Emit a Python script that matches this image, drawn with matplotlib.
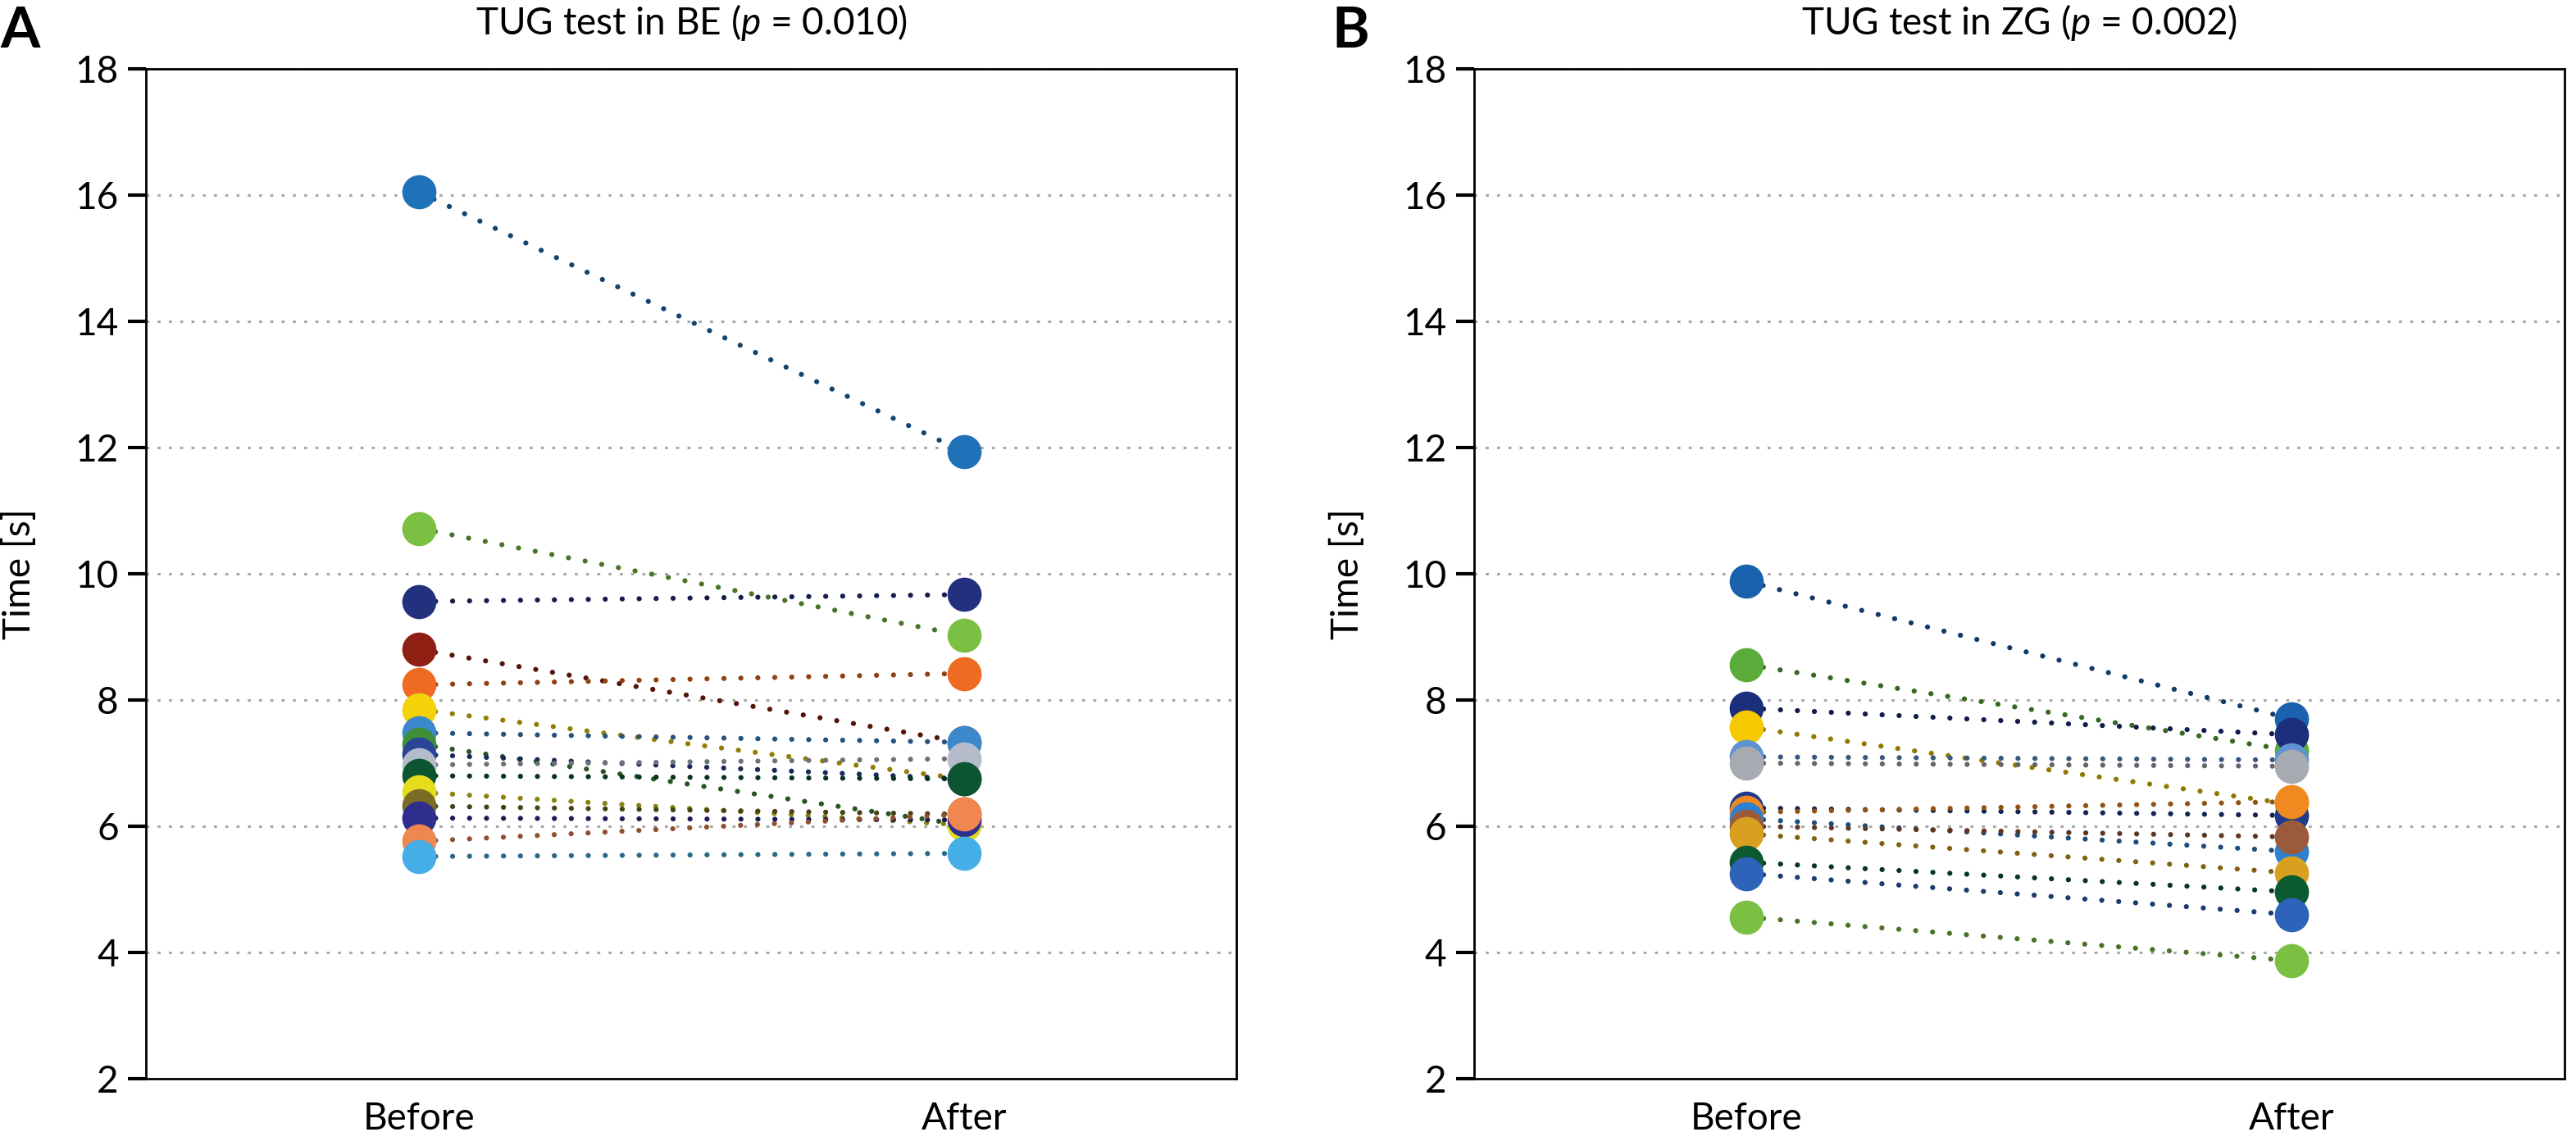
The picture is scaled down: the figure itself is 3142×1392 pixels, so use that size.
import numpy as np
import matplotlib.pyplot as plt
from matplotlib.colors import to_rgb

plt.rcParams['font.family'] = ['Lato', 'DejaVu Sans']
plt.rcParams['mathtext.fontset'] = 'custom'
plt.rcParams['mathtext.it'] = 'Lato:italic'
plt.rcParams['mathtext.rm'] = 'Lato'

groups = ['Before', 'After']
yticks = [2, 4, 6, 8, 10, 12, 14, 16, 18]

# BE group
be_before = [16.05, 10.72, 9.56, 8.80, 8.24, 7.85, 7.48, 7.30, 7.14, 6.97, 6.80, 6.54, 6.32, 6.13, 5.76, 5.52]
be_after = [11.93, 9.02, 9.67, 7.33, 8.42, 6.75, 7.33, 6.02, 6.75, 7.07, 6.75, 6.02, 6.19, 6.10, 6.19, 5.57]
be_colors = ['#1f72b8', '#7cc043', '#22307e', '#8e1f12', '#ef6b22', '#f4d20a', '#3c88cc', '#3f8f3a',
             '#2a4596', '#b4bccb', '#0d5532', '#e4dc1c', '#7a6c24', '#2e2e8e', '#f08650', '#45aee6']

# ZG group
zg_before = [9.88, 8.56, 7.87, 7.57, 7.10, 7.00, 6.29, 6.22, 6.12, 6.00, 5.88, 5.43, 5.25, 4.56]
zg_after = [7.70, 7.20, 7.45, 6.35, 7.05, 6.95, 6.17, 6.39, 5.60, 5.83, 5.26, 4.96, 4.60, 3.87]
zg_colors = ['#1a62ad', '#5aab3a', '#1c2f7c', '#f5c800', '#5f92d2', '#a8aab2', '#1f3b8c', '#f08a20',
             '#2e80d0', '#9c5a3c', '#d9a020', '#0c5a30', '#2d63b8', '#7bc043']


def darker(c, f=0.6):
    r, g, b = to_rgb(c)
    return (r * f, g * f, b * f)


def panel(ax, before, after, colors, title):
    for b, a, c in zip(before, after, colors):
        ax.plot([0, 1], [b, a], color=darker(c), lw=4.5,
                linestyle=(0, (0.01, 3.3)), dash_capstyle='round', zorder=2)
    for b, a, c in zip(before, after, colors):
        ax.plot([0, 1], [b, a], 'o', color=c, markersize=30, markeredgewidth=0, zorder=3)
    ax.set_xlim(-0.5, 1.5)
    ax.set_ylim(2, 18)
    ax.set_yticks(yticks)
    ax.set_xticks([0, 1])
    ax.set_xticklabels(groups)
    ax.yaxis.grid(True, color='#a8a8a8', lw=2.2, linestyle=(0, (1.2, 3.3)))
    ax.set_axisbelow(True)
    for s in ax.spines.values():
        s.set_linewidth(2.0)
        s.set_color('black')
    ax.tick_params(axis='y', direction='out', length=16, width=3, labelsize=33, pad=8)
    ax.tick_params(axis='x', length=0, labelsize=33, pad=20)
    ax.set_ylabel('Time [s]', fontsize=33)
    ax.yaxis.set_label_coords(-0.10, 0.5)
    ax.set_title(title, fontsize=33, pad=30)


fig = plt.figure(figsize=(31.42, 13.92), dpi=100)
ax1 = fig.add_axes([0.0567, 0.0546, 0.4233, 0.8851])
ax2 = fig.add_axes([0.5722, 0.0546, 0.4233, 0.8851])

panel(ax1, be_before, be_after, be_colors, 'TUG test in BE ($\\it{p}$ = 0.010)')
panel(ax2, zg_before, zg_after, zg_colors, 'TUG test in ZG ($\\it{p}$ = 0.002)')

fig.text(0.0, 0.995, 'A', fontsize=50, fontweight='bold', va='top', ha='left')
fig.text(0.517, 0.995, 'B', fontsize=50, fontweight='bold', va='top', ha='left')

fig.savefig('out.png', dpi=100)
